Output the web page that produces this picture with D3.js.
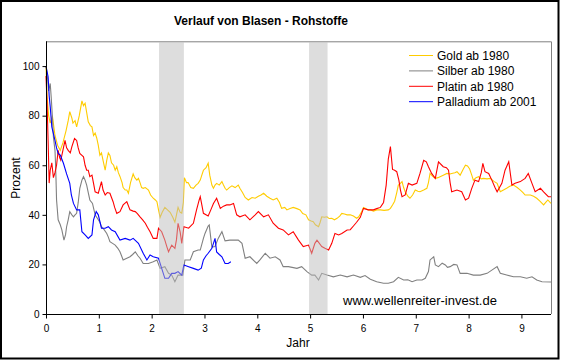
<!DOCTYPE html>
<html><head><meta charset="utf-8">
<script src="https://cdn.jsdelivr.net/npm/d3@7"></script>
<style>body{margin:0;background:#fff} text{font-family:"Liberation Sans",Arial,sans-serif}</style>
</head><body><svg id="c" width="561" height="360"></svg>
<script>
const title = "Verlauf von Blasen - Rohstoffe";
const seriesNames = ["Gold ab 1980","Silber ab 1980","Platin ab 1980","Palladium ab 2001"];
const xTicks = [0,1,2,3,4,5,6,7,8,9];
const yTicks = [0,20,40,60,80,100];
const bandStart = [2.14, 4.98];
const bandEnd = [2.61, 5.33];

const goldX = [0,0.02,0.05,0.08,0.12,0.17,0.22,0.27,0.32,0.38,0.42,0.45,0.49,0.51,0.55,0.58,0.63,0.68,0.71,0.74,0.78,0.80,0.84,0.87,0.90,0.93,0.96,0.99,1.02,1.05,1.09,1.12,1.15,1.18,1.21,1.24,1.28,1.31,1.34,1.37,1.40,1.44,1.46,1.50,1.53,1.56,1.60,1.65,1.68,1.72,1.75,1.78,1.81,1.84,1.88,1.94,1.98,2.03,2.07,2.10,2.13,2.16,2.20,2.25,2.30,2.35,2.40,2.44,2.47,2.50,2.54,2.57,2.60,2.62,2.66,2.69,2.74,2.79,2.84,2.88,2.92,2.95,2.98,3.03,3.07,3.10,3.14,3.17,3.20,3.23,3.28,3.33,3.36,3.39,3.42,3.47,3.52,3.58,3.64,3.67,3.72,3.77,3.83,3.90,3.96,4.02,4.07,4.12,4.18,4.24,4.30,4.37,4.42,4.46,4.52,4.56,4.62,4.68,4.75,4.81,4.86,4.92,4.97,5.02,5.06,5.10,5.16,5.19,5.22,5.27,5.32,5.36,5.41,5.46,5.51,5.56,5.60,5.65,5.70,5.76,5.82,5.88,5.92,5.97,6.01,6.06,6.10,6.14,6.20,6.26,6.33,6.40,6.48,6.52,6.56,6.60,6.64,6.67,6.70,6.74,6.77,6.80,6.85,6.89,6.94,6.99,7.04,7.08,7.15,7.21,7.24,7.27,7.32,7.37,7.42,7.46,7.52,7.59,7.65,7.68,7.74,7.78,7.84,7.90,7.94,7.98,8.02,8.06,8.09,8.14,8.19,8.24,8.28,8.35,8.41,8.48,8.54,8.57,8.60,8.66,8.72,8.78,8.85,8.92,8.98,9.03,9.07,9.12,9.17,9.23,9.29,9.35,9.42,9.46,9.50,9.56];
const goldY = [100,88,80,77,80,72,68,66,69,74,78,81.6,79,77,78,75.5,80,86,84,85,80,77.5,76,75.5,72,73,71,68,64,65,61,58,62,65,64,61,60,58,59.4,57,55.5,53,51,50,50,48.7,53,56.5,55,54,54.7,53,51,50.7,51,50,48,46.7,46,45.3,42,39,41,43,42,41,39,37,40,43,41,40.7,45,55,53,53,51,50.7,52,52.7,54,56,58,59,60.8,56,52,50.7,52,52.7,52,53.4,52,50.7,50,51,51.7,51,52,50.7,49,47,46,47,46.7,47.5,48,48.7,47.5,46.7,46,46.7,45,42.6,43,42,42.6,43,42.5,42,40.5,40,38,37.5,37.2,36,35.2,37,39.2,39,39.2,38.5,38.6,38,38.6,39.5,40.6,40.3,40,40,39.5,38.6,39.2,41,43,42.5,42,42,41.5,42,42,41.8,42,42.6,44,45.5,49,52,52.5,53.4,51,49.3,47.5,46.7,48,50,49.5,49.3,50,50.7,53,56.7,55.5,54.7,55,55.4,56,56.7,56.5,56.7,57,57.4,56,58.5,60,59.7,58.5,56,54,55,55.4,54.5,54.7,54.5,54.7,53.5,52.7,51,49.3,50,50.7,51.5,52,51,50,49,48,48,48,47.5,46.7,45.5,44,45,46,44.6];

const silberX = [0,0.03,0.05,0.08,0.10,0.12,0.14,0.17,0.18,0.19,0.20,0.23,0.27,0.30,0.34,0.37,0.39,0.42,0.45,0.49,0.52,0.55,0.58,0.61,0.64,0.68,0.71,0.74,0.77,0.80,0.83,0.88,0.93,0.99,1.02,1.05,1.10,1.15,1.18,1.21,1.26,1.31,1.36,1.40,1.43,1.46,1.53,1.59,1.64,1.69,1.74,1.78,1.84,1.94,2.03,2.10,2.16,2.25,2.32,2.38,2.44,2.50,2.59,2.63,2.73,2.79,2.88,2.92,2.98,3.01,3.07,3.09,3.14,3.20,3.26,3.33,3.39,3.48,3.58,3.64,3.71,3.77,3.86,3.99,4.05,4.15,4.24,4.34,4.43,4.49,4.59,4.75,4.84,4.94,5.03,5.09,5.16,5.22,5.32,5.44,5.57,5.70,5.82,5.95,6.04,6.14,6.26,6.39,6.48,6.58,6.67,6.77,6.85,6.93,7.02,7.12,7.18,7.24,7.27,7.34,7.37,7.43,7.50,7.56,7.60,7.65,7.72,7.78,7.84,7.97,8.09,8.22,8.35,8.44,8.54,8.60,8.72,8.85,8.98,9.10,9.20,9.29,9.39,9.56];
const silberY = [100,95,90,93,87,80,71.5,66,61,54,46,38,36,33.9,29.8,32,35.2,38,41.3,40,39.2,40,40.6,45,50.7,54,55.4,54,52,49,46,44.6,40,38,37,35.2,34,32.5,31,29.2,28.5,27.8,26.5,25.1,23.5,21.8,22.5,23.1,24,25.1,23.5,22.5,20.4,20.4,21.1,21.8,18.4,19.1,16.4,15.7,13,15.7,15.7,21.8,21.8,25.1,25.8,25.8,30.5,32.5,35.5,35.9,27,27.2,30.5,33.2,29.5,29.8,29.8,29.8,28.5,22.5,23.1,20.4,21.8,24.5,22.5,23.1,21.8,19.1,19.1,18.4,19.1,17.1,15.7,15.7,13.7,16.4,15.7,15.0,15.7,15,15.7,14.8,15.5,14,13,12.4,12.4,13,14.8,13.7,13.8,13,13.7,13.7,14.4,17.1,21.8,23.1,19.8,19.1,20.5,19.8,18.8,19.1,20,19.8,16.4,16.4,15.7,15.7,16.4,17.7,19.1,16.4,15.7,15,15,14.4,15,13.7,13,12.9];

const platinX = [0,0.02,0.04,0.06,0.08,0.11,0.14,0.17,0.20,0.23,0.26,0.28,0.32,0.36,0.39,0.42,0.46,0.49,0.54,0.58,0.61,0.64,0.68,0.71,0.74,0.77,0.80,0.83,0.87,0.90,0.93,0.99,1.05,1.08,1.12,1.16,1.21,1.24,1.27,1.30,1.34,1.40,1.46,1.53,1.59,1.65,1.69,1.73,1.78,1.83,1.88,1.92,1.97,2.03,2.10,2.13,2.19,2.25,2.29,2.32,2.38,2.44,2.47,2.50,2.54,2.57,2.61,2.70,2.79,2.85,2.90,2.92,2.95,2.98,3.07,3.12,3.17,3.23,3.30,3.36,3.42,3.48,3.55,3.61,3.67,3.77,3.86,3.96,4.02,4.12,4.21,4.30,4.40,4.49,4.59,4.68,4.78,4.87,4.97,5.03,5.09,5.13,5.22,5.28,5.35,5.41,5.47,5.54,5.60,5.70,5.76,5.82,5.88,5.95,6.01,6.10,6.20,6.26,6.33,6.39,6.44,6.48,6.52,6.56,6.60,6.64,6.68,6.71,6.74,6.80,6.86,6.93,7.02,7.08,7.15,7.20,7.24,7.30,7.37,7.43,7.52,7.58,7.62,7.65,7.68,7.78,7.87,7.94,8.00,8.06,8.12,8.19,8.24,8.27,8.31,8.38,8.44,8.50,8.54,8.63,8.69,8.76,8.82,8.88,8.98,9.07,9.13,9.20,9.26,9.36,9.42,9.51,9.56];
const platinY = [96,85,70,52.8,58,61,55,57,60,66,63,62,66,70,67,66,65,67.5,70.8,70,67,64.8,64,63.4,60,58,58,55.4,56,52.7,49.3,48.7,53.4,50,48,49,48.7,47,45.3,43,40.6,41.3,44,45.3,42,41.5,41.3,40.5,39.2,38,36.6,35,33.2,30.5,30.5,34.6,33.2,29.8,27,25.1,27.8,26.5,30,36.6,33,28.5,35.2,34.6,36.6,42,46,47.3,44,40.6,39.5,42,44.6,46.7,42.6,43.5,44,44,44.6,40,39.2,40,38,40,41.3,39.2,40,36.6,34.6,33.9,31.9,33.2,29.8,27.2,27.8,24.5,28.5,29.8,27.2,26.5,25.8,28.5,32.5,31.9,32.5,33.9,34,35.5,37,39,42.6,42,42,42.5,43,45,52,62.5,67.5,58.3,58,57.4,54,50,47.3,48,52.7,52,52.7,56.7,62,61.4,59.4,56.7,54.7,61.4,59.4,59,58,53,49.3,50,49.3,46,46.7,50.7,54,53.4,57,60.8,57.4,56.7,54,51,49.3,52.7,58,61.4,52,52.7,53.4,54.7,56.7,52.7,49.3,50.7,49.3,47.3,47.3];

const palladiumX = [0,0.04,0.06,0.08,0.11,0.14,0.17,0.20,0.23,0.27,0.33,0.39,0.45,0.48,0.52,0.58,0.64,0.68,0.74,0.80,0.87,0.90,0.95,0.99,1.05,1.12,1.18,1.24,1.31,1.40,1.50,1.59,1.65,1.75,1.84,1.91,1.97,2.03,2.13,2.19,2.25,2.32,2.38,2.44,2.50,2.57,2.61,2.70,2.79,2.88,2.94,2.98,3.03,3.07,3.14,3.20,3.23,3.28,3.33,3.39,3.45,3.50];
const palladiumY = [100,95.7,88,83.6,75.5,72.8,70,67,64.8,64.1,60.8,56.5,52.7,48,44.6,42,42,33.2,31.9,30.5,31.9,38,41.3,40,34.6,34.6,35.2,33.9,33.2,29.8,30.5,29.8,30.5,28.5,24.5,21.8,23.8,23.1,22.5,18.4,14.4,14.4,16.4,16.4,17.1,15.7,19.8,19.1,18.4,17.7,18.5,21.8,23.5,24.5,26.5,30.5,25,24,23.1,20.4,20.4,21.1];

const colors = ["#FFCC00","#808080","#FF0000","#0000FF"];
const seriesX = [goldX, silberX, platinX, palladiumX];
const seriesY = [goldY, silberY, platinY, palladiumY];

const svg = d3.select("#c");
const L = 46, R = 551, T = 41.3, B = 314;
const x = d3.scaleLinear().domain([0, 9.56]).range([L, R]);
const y = d3.scaleLinear().domain([0, 110]).range([B, T]);

// outer frame
svg.append("rect").attr("x",1).attr("y",1).attr("width",557.5).attr("height",357.5)
  .attr("fill","#fff").attr("stroke","#000").attr("stroke-width",2);

// plot border (top/right gray)
svg.append("path").attr("d",`M${L},${T+0.5}H${R+0.5}V${B}`).attr("fill","none")
  .attr("stroke","#808080").attr("stroke-width",1);

// lines
const line = d3.line().x(d=>x(d[0])).y(d=>y(d[1]));
seriesX.forEach((xs,i)=>{
  const pts = xs.map((t,j)=>[t, seriesY[i][j]]);
  svg.append("path").datum(pts).attr("d",line).attr("fill","none")
    .attr("stroke",colors[i]).attr("stroke-width",1.1).attr("stroke-linejoin","miter");
});

// shaded bands on top (semi-transparent)
bandStart.forEach((s,i)=>{
  svg.append("rect").attr("x",x(s)).attr("y",T+1).attr("width",x(bandEnd[i])-x(s))
    .attr("height",B-T-1).attr("fill","#BBBBBB").attr("fill-opacity",0.5);
});

// axes
const yAxis = d3.axisLeft(y).tickValues(yTicks).tickSize(4).tickSizeOuter(0);
const gy = svg.append("g").attr("transform",`translate(${L+0.5},0)`).call(yAxis);
gy.select(".domain").attr("stroke","#000").attr("d",`M0,${T}V${B+0.5}`);
gy.selectAll("text").attr("font-size",10).attr("fill","#000").attr("x",-7);

const xAxis = d3.axisBottom(x).tickValues(xTicks).tickSize(4).tickSizeOuter(0);
const gx = svg.append("g").attr("transform",`translate(0,${B+0.5})`).call(xAxis);
gx.select(".domain").attr("stroke","#000").attr("d",`M${L},0H${R}`);
gx.selectAll("text").attr("font-size",10).attr("fill","#000").attr("y",10);
svg.selectAll(".tick line").attr("stroke","#000");
svg.selectAll(".tick text").attr("font-family","'Liberation Sans',Arial,sans-serif");

// titles
svg.append("text").attr("x",261).attr("y",25).attr("text-anchor","middle")
  .attr("font-size",12).attr("font-weight","bold").text(title);
svg.append("text").attr("transform","translate(20,178) rotate(-90)").attr("text-anchor","middle")
  .attr("font-size",12).text("Prozent");
svg.append("text").attr("x",298).attr("y",347).attr("text-anchor","middle")
  .attr("font-size",12).text("Jahr");
svg.append("text").attr("x",343).attr("y",305).attr("font-size",13).text("www.wellenreiter-invest.de");

// legend
seriesNames.forEach((n,i)=>{
  const yy = 55.5 + i*15.4;
  svg.append("line").attr("x1",409).attr("x2",433).attr("y1",yy).attr("y2",yy)
    .attr("stroke",colors[i]).attr("stroke-width",1);
  svg.append("text").attr("x",437).attr("y",yy+4.3).attr("font-size",12).text(n);
});
</script></body></html>
